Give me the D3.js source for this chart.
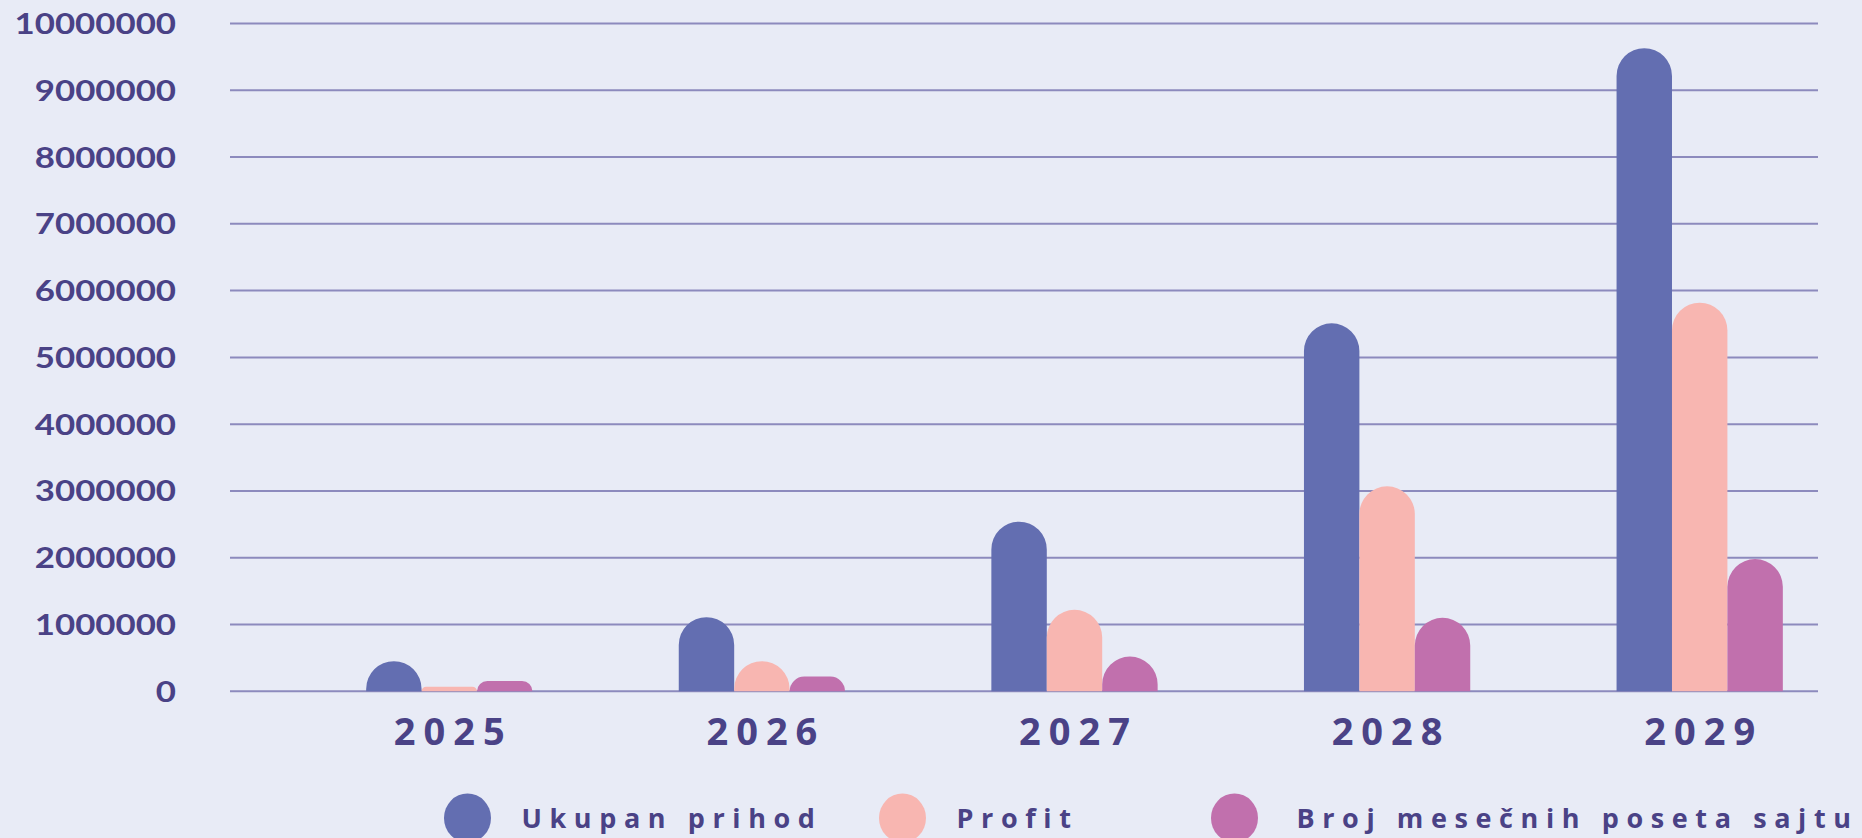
<!DOCTYPE html>
<html>
<head>
<meta charset="utf-8">
<script src="https://cdn.jsdelivr.net/npm/d3@7"></script>
<style>
  html, body { margin: 0; padding: 0; background: #e8ebf6; }
  svg { display: block; }
</style>
</head>
<body>
<svg id="chart" width="1862" height="838"></svg>
<script>
"use strict";

// data
const years = ["2025", "2026", "2027", "2028", "2029"];
const seriesNames = ["Ukupan prihod", "Profit", "Broj mesečnih poseta sajtu"];
const prihod = [450000, 1110000, 2540000, 5510000, 9630000];
const profit = [70000, 450000, 1220000, 3070000, 5820000];
const posete = [155000, 220000, 520000, 1100000, 1980000];
const yTicks = [0, 1000000, 2000000, 3000000, 4000000, 5000000, 6000000, 7000000, 8000000, 9000000, 10000000];

const colors = ["#636eb1", "#f8b6b1", "#c170ad"];
const textColor = "#4a4286";
const gridColor = "#8c8abd";

const width = 1862;
const height = 838;

const rows = years.map((y, i) => ({
  year: y,
  values: [prihod[i], profit[i], posete[i]]
}));

const svg = d3.select("svg#chart");

svg.append("rect")
  .attr("width", width)
  .attr("height", height)
  .attr("fill", "#e8ebf6");

const y = d3.scaleLinear()
  .domain([0, 10000000])
  .range([691.3, 23.5]);

// groups are not centred on the grid in the original, so the band range is its own
const x = d3.scaleBand()
  .domain(years)
  .range([293, 1856])
  .padding(0);

const xs = d3.scaleBand()
  .domain(d3.range(seriesNames.length))
  .range([0, x.bandwidth()])
  .paddingInner(0)
  .paddingOuter(1.32);

// grid lines
svg.append("g")
  .selectAll("line")
  .data(yTicks)
  .join("line")
  .attr("x1", 230)
  .attr("x2", 1818)
  .attr("y1", (d) => y(d))
  .attr("y2", (d) => y(d))
  .attr("stroke", gridColor)
  .attr("stroke-width", 2);

// y labels (the original font is wide, so stretch Lato a little)
svg.append("g")
  .selectAll("text")
  .data(yTicks)
  .join("text")
  .attr("transform", (d) => `translate(176, ${y(d)}) scale(1.2, 1)`)
  .attr("dy", "0.36em")
  .attr("text-anchor", "end")
  .attr("font-family", "Lato, sans-serif")
  .attr("font-weight", 700)
  .attr("font-size", 29)
  .attr("fill", textColor)
  .text((d) => d);

// bar with a rounded top, flat bottom
function roundTop(x0, w, top, base) {
  const h = base - top;
  if (h <= 0) return "";
  const r = Math.min(w / 2, h);
  if (r < w / 2) {
    return `M${x0},${base}` +
      `L${x0},${top + r}` +
      `A${r},${r} 0 0 1 ${x0 + r},${top}` +
      `L${x0 + w - r},${top}` +
      `A${r},${r} 0 0 1 ${x0 + w},${top + r}` +
      `L${x0 + w},${base}Z`;
  }
  return `M${x0},${base}` +
    `L${x0},${top + r}` +
    `A${r},${r} 0 0 1 ${x0 + w / 2},${top}` +
    `A${r},${r} 0 0 1 ${x0 + w},${top + r}` +
    `L${x0 + w},${base}Z`;
}

const groups = svg.append("g")
  .selectAll("g")
  .data(rows)
  .join("g")
  .attr("transform", (d) => `translate(${x(d.year)},0)`);

groups.selectAll("path")
  .data((d) => d.values.map((v, i) => ({ key: i, value: v })))
  .join("path")
  .attr("d", (d) => roundTop(xs(d.key), xs.bandwidth(), y(d.value), y(0)))
  .attr("fill", (d) => colors[d.key]);

// year labels
svg.append("g")
  .selectAll("text")
  .data(years)
  .join("text")
  .attr("x", (d) => x(d) + x.bandwidth() / 2 + 4)
  .attr("y", 745)
  .attr("text-anchor", "middle")
  .attr("font-family", "'Open Sans', sans-serif")
  .attr("font-weight", 700)
  .attr("font-size", 38)
  .attr("letter-spacing", 8)
  .attr("fill", textColor)
  .text((d) => d);

// legend
const legendX = [467.5, 902.5, 1234.5];
const legend = svg.append("g")
  .selectAll("g")
  .data(seriesNames)
  .join("g")
  .attr("transform", (d, i) => `translate(${legendX[i]}, 818)`);

legend.append("ellipse")
  .attr("rx", 23.5)
  .attr("ry", 24.5)
  .attr("fill", (d, i) => colors[i]);

legend.append("text")
  .attr("x", (d, i) => (i === 2 ? 62 : 54))
  .attr("y", 10)
  .attr("font-family", "'Open Sans', sans-serif")
  .attr("font-weight", 700)
  .attr("font-size", 27)
  .attr("letter-spacing", 7.6)
  .attr("fill", textColor)
  .text((d) => d);
</script>
</body>
</html>
